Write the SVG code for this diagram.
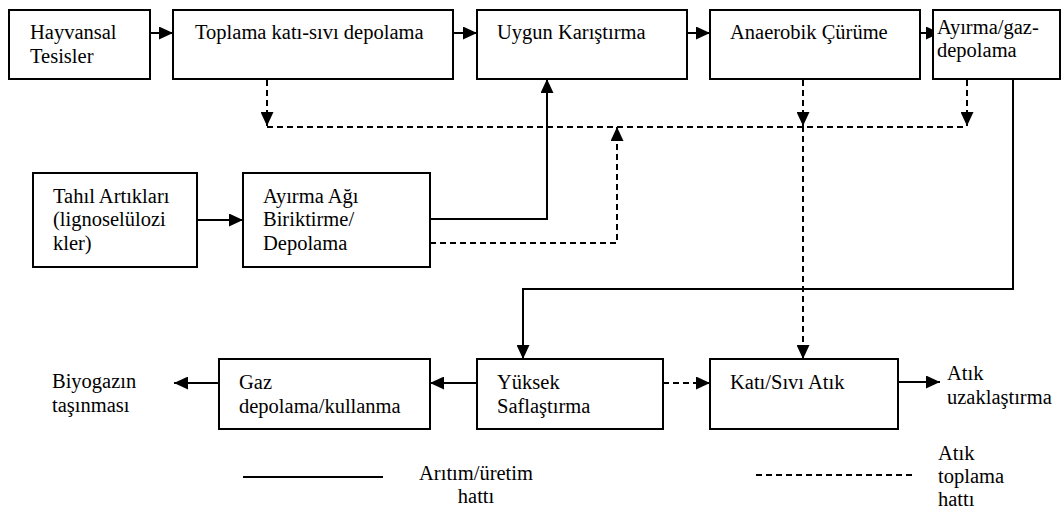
<svg xmlns="http://www.w3.org/2000/svg" width="1061" height="508" viewBox="0 0 1061 508">
<style>
.box{fill:#fff;stroke:#000;stroke-width:2}
.t{font-size:20.5px;fill:#000}
.ln{fill:none;stroke:#000;stroke-width:2}
.dash{fill:none;stroke:#000;stroke-width:2;stroke-dasharray:6 4}
</style>
<defs>
<marker id="ah" markerUnits="userSpaceOnUse" markerWidth="14" markerHeight="13" refX="14" refY="6.5" orient="auto">
<path d="M0,0 L14,6.5 L0,13 z" fill="#000"/>
</marker>
</defs>
<rect width="1061" height="508" fill="#fff"/>
<g id="connectors">
<line class="ln" x1="150" y1="33" x2="173" y2="33" marker-end="url(#ah)"/>
<line class="ln" x1="453" y1="33" x2="477" y2="33" marker-end="url(#ah)"/>
<line class="ln" x1="687" y1="33" x2="710" y2="33" marker-end="url(#ah)"/>
<line class="ln" x1="920" y1="33" x2="940" y2="33" marker-end="url(#ah)"/>
<line class="dash" x1="267" y1="80" x2="267" y2="126" marker-end="url(#ah)"/>
<line class="dash" x1="267" y1="127" x2="967" y2="127"/>
<line class="dash" x1="803" y1="80" x2="803" y2="126" marker-end="url(#ah)"/>
<line class="dash" x1="803" y1="126" x2="803" y2="359" marker-end="url(#ah)"/>
<line class="dash" x1="967" y1="80" x2="967" y2="126" marker-end="url(#ah)"/>
<line class="ln" x1="197" y1="220" x2="243" y2="220" marker-end="url(#ah)"/>
<polyline class="ln" points="430,219 547,219 547,79" marker-end="url(#ah)"/>
<polyline class="dash" points="430,243 617,243 617,127" marker-end="url(#ah)"/>
<polyline class="ln" points="1013,79 1013,289 523,289 523,359" marker-end="url(#ah)"/>
<line class="ln" x1="477" y1="383" x2="430" y2="383" marker-end="url(#ah)"/>
<line class="ln" x1="219" y1="383" x2="174" y2="383" marker-end="url(#ah)"/>
<line class="dash" x1="663" y1="383" x2="710" y2="383" marker-end="url(#ah)"/>
<line class="ln" x1="898" y1="382" x2="940" y2="382" marker-end="url(#ah)"/>
</g>
<g font-family="Liberation Serif, Tinos, DejaVu Serif, serif">
<g id="n-hayvansal"><rect class="box" x="9" y="10" width="141" height="69"/><text class="t" x="30" y="39">Hayvansal<tspan x="30" y="63">Tesisler</tspan></text></g>
<g id="n-toplama"><rect class="box" x="173" y="10" width="280" height="69"/><text class="t" x="195" y="39">Toplama katı-sıvı depolama</text></g>
<g id="n-uygun"><rect class="box" x="477" y="10" width="210" height="69"/><text class="t" x="497" y="39">Uygun Karıştırma</text></g>
<g id="n-anaerobik"><rect class="box" x="710" y="10" width="210" height="69"/><text class="t" x="730" y="39">Anaerobik Çürüme</text></g>
<g id="n-ayirma-gaz"><rect class="box" x="933" y="10" width="127" height="69"/><text class="t" x="937" y="34">Ayırma/gaz-<tspan x="937" y="57">depolama</tspan></text></g>
<g id="n-tahil"><rect class="box" x="33" y="173" width="164" height="94"/><text class="t" x="53" y="203">Tahıl Artıkları<tspan x="53" y="226">(lignoselülozi</tspan><tspan x="53" y="250">kler)</tspan></text></g>
<g id="n-ayirma-agi"><rect class="box" x="243" y="173" width="187" height="94"/><text class="t" x="263" y="203">Ayırma Ağı<tspan x="263" y="226">Biriktirme/</tspan><tspan x="263" y="250">Depolama</tspan></text></g>
<g id="n-biyogazin"><text class="t" x="52" y="388">Biyogazın<tspan x="52" y="412">taşınması</tspan></text></g>
<g id="n-gaz"><rect class="box" x="219" y="359" width="211" height="70"/><text class="t" x="239" y="389">Gaz<tspan x="239" y="413">depolama/kullanma</tspan></text></g>
<g id="n-yuksek"><rect class="box" x="477" y="359" width="186" height="70"/><text class="t" x="497" y="389">Yüksek<tspan x="497" y="413">Saflaştırma</tspan></text></g>
<g id="n-kati"><rect class="box" x="710" y="359" width="188" height="70"/><text class="t" x="730" y="389">Katı/Sıvı Atık</text></g>
<g id="n-atik-uzak"><text class="t" x="947" y="380">Atık<tspan x="947" y="404">uzaklaştırma</tspan></text></g>
<g id="legend">
<line class="ln" x1="243" y1="477" x2="383" y2="477"/>
<text class="t" x="476" y="480" text-anchor="middle">Arıtım/üretim<tspan x="476" y="503">hattı</tspan></text>
<line class="dash" x1="756" y1="475" x2="912" y2="475"/>
<text class="t" x="938" y="460">Atık<tspan x="938" y="483">toplama</tspan><tspan x="938" y="506">hattı</tspan></text>
</g>
</g>
</svg>
